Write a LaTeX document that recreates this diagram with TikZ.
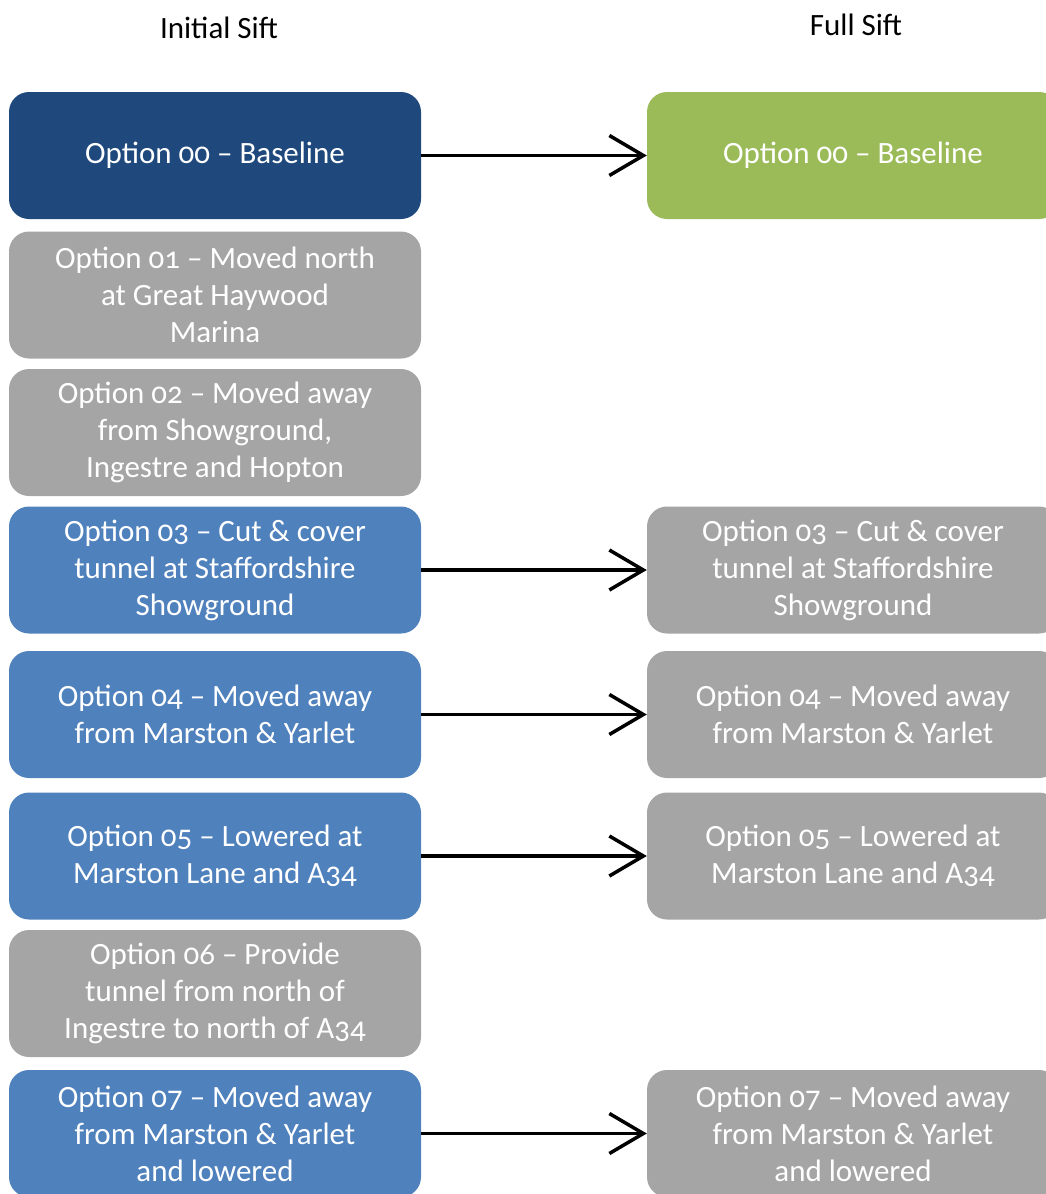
\documentclass[tikz,border=0pt]{standalone}
\usepackage{fontspec}
\setmainfont{Carlito}
\newfontfamily\optfont{Carlito}[Numbers=OldStyle, Ligatures=TeX]
\usetikzlibrary{arrows.meta}

\definecolor{marine}{HTML}{1F497D}
\definecolor{bleu}{HTML}{4F81BD}
\definecolor{gris}{HTML}{A5A5A5}
\definecolor{vert}{HTML}{9BBB59}

\begin{document}
\begin{tikzpicture}[x=1pt, y=-1pt]
			\tikzset{optnode/.style={rectangle, rounded corners=20pt, draw=none, text=white, align=center, minimum width=412pt, minimum height=127pt, inner sep=0pt, font=\optfont\fontsize{31}{37}\selectfont}, link/.style={-{Straight Barb[length=34pt, width=40pt]}, line width=3.5pt, black}, titre/.style={font=\fontsize{31}{37}\selectfont}};

			\useasboundingbox (0,0) rectangle (1046,1194);
			\clip (0,0) rectangle (1046,1194);

			\node[titre] (tl) at ( 219,   28) {Initial Sift};
			\node[titre] (tr) at ( 856,   25) {Full Sift};

			\node[optnode, fill=marine] (l0) at ( 215, 155.5) {Option 00 – Baseline};
			\node[optnode, fill=gris]   (l1) at ( 215,  295) {Option 01 – Moved north\\at Great Haywood\\Marina};
			\node[optnode, fill=gris]   (l2) at ( 215, 432.5) {Option 02 – Moved away\\from Showground,\\Ingestre and Hopton};
			\node[optnode, fill=bleu]   (l3) at ( 215,  570) {Option 03 – Cut \& cover\\tunnel at Staffordshire\\Showground};
			\node[optnode, fill=bleu]   (l4) at ( 215, 714.5) {Option 04 – Moved away\\from Marston \& Yarlet};
			\node[optnode, fill=bleu]   (l5) at ( 215,  856) {Option 05 – Lowered at\\Marston Lane and A34};
			\node[optnode, fill=gris]   (l6) at ( 215, 993.5) {Option 06 – Provide\\tunnel from north of\\Ingestre to north of A34};
			\node[optnode, fill=bleu]   (l7) at ( 215, 1133.5) {Option 07 – Moved away\\from Marston \& Yarlet\\and lowered};

			\node[optnode, fill=vert]   (r0) at ( 853, 155.5) {Option 00 – Baseline};
			\node[optnode, fill=gris]   (r3) at ( 853,  570) {Option 03 – Cut \& cover\\tunnel at Staffordshire\\Showground};
			\node[optnode, fill=gris]   (r4) at ( 853, 714.5) {Option 04 – Moved away\\from Marston \& Yarlet};
			\node[optnode, fill=gris]   (r5) at ( 853,  856) {Option 05 – Lowered at\\Marston Lane and A34};
			\node[optnode, fill=gris]   (r7) at ( 853, 1133.5) {Option 07 – Moved away\\from Marston \& Yarlet\\and lowered};

			\draw[link] (l0) -- (r0);
			\draw[link] (l3) -- (r3);
			\draw[link] (l4) -- (r4);
			\draw[link] (l5) -- (r5);
			\draw[link] (l7) -- (r7);

		\end{tikzpicture}
\end{document}
